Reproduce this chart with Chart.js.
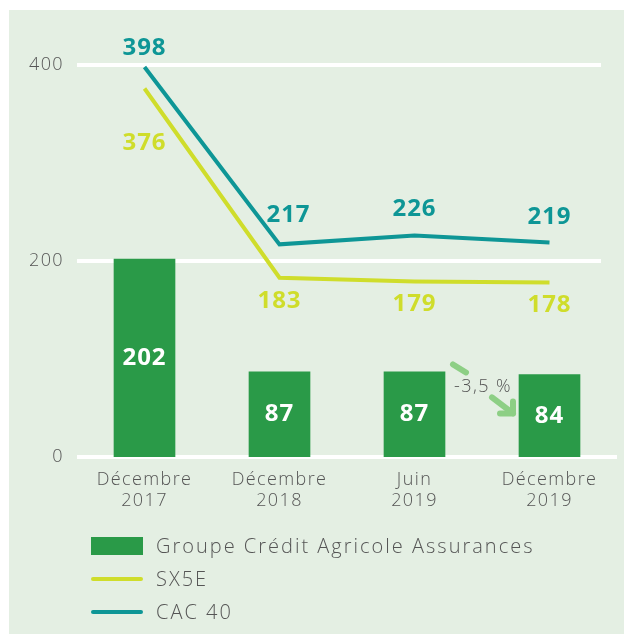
<!DOCTYPE html>
<html>
<head>
<meta charset="utf-8">
<script src="https://cdn.jsdelivr.net/npm/chart.js@4"></script>
<style>
  body { margin: 0; background: #fff; }
  #panel { position: absolute; left: 9px; top: 10px; width: 615px; height: 624px; background: #e4efe3; }
  #wrap { position: absolute; left: 0; top: 0; width: 624px; height: 636px; }
  #legend { position: absolute; left: 91px; top: 529px; font-family: 'Open Sans', sans-serif; font-weight: 300; font-size: 20px; letter-spacing: 2px; color: #555; }
  .row { height: 33px; display: flex; align-items: center; }
  .sw { width: 52px; margin-right: 13px; }
</style>
</head>
<body>
<div id="panel"></div>
<div id="wrap"><canvas id="chart"></canvas></div>
<div id="legend"></div>
<script>
const categories = [['Décembre', '2017'], ['Décembre', '2018'], ['Juin', '2019'], ['Décembre', '2019']];
const gcaValues = [202, 87, 87, 84];
const sx5eValues = [376, 183, 179, 178];
const cac40Values = [398, 217, 226, 219];
const yTicks = [0, 200, 400];
const seriesNames = ['Groupe Crédit Agricole Assurances', 'SX5E', 'CAC 40'];
const changeLabel = '-3,5 %';

const green = '#2a9a48';
const lime = '#cfdd2b';
const teal = '#0e9696';

// the original font is wider than anything installed, so space the letters out a bit
const spacing = {
  id: 'spacing',
  beforeDraw(chart) { chart.ctx.letterSpacing = '1.4px'; },
};

// white grid lines, the top ones stop a bit short of the right edge
const gridLines = {
  id: 'gridLines',
  beforeDatasetsDraw(chart) {
    const { ctx, chartArea, scales } = chart;
    ctx.save();
    ctx.strokeStyle = '#fff';
    ctx.lineWidth = 4;
    yTicks.forEach((v) => {
      const y = scales.y.getPixelForValue(v);
      ctx.beginPath();
      ctx.moveTo(chartArea.left, y);
      ctx.lineTo(v === 0 ? chartArea.right : chartArea.right - 16, y);
      ctx.stroke();
    });
    ctx.restore();
  },
};

const valueLabels = {
  id: 'valueLabels',
  afterDatasetsDraw(chart) {
    const { ctx } = chart;
    const cacOffsets = [[0, -19], [9, -29], [0, -26], [0, -25]];
    const sxOffsets = [[0, 55], [0, 23], [0, 23], [0, 23]];
    ctx.save();
    ctx.letterSpacing = '1px';
    ctx.font = 'bold 24px "Open Sans"';
    ctx.textAlign = 'center';
    ctx.textBaseline = 'middle';

    ctx.fillStyle = '#fff';
    chart.getDatasetMeta(0).data.forEach((el, i) => {
      ctx.fillText(gcaValues[i], el.x, (el.y + el.base) / 2);
    });
    ctx.fillStyle = lime;
    chart.getDatasetMeta(1).data.forEach((el, i) => {
      ctx.fillText(sx5eValues[i], el.x + sxOffsets[i][0], el.y + sxOffsets[i][1]);
    });
    ctx.fillStyle = teal;
    chart.getDatasetMeta(2).data.forEach((el, i) => {
      ctx.fillText(cac40Values[i], el.x + cacOffsets[i][0], el.y + cacOffsets[i][1]);
    });
    ctx.restore();
  },
};

// -3,5 % arrow between the last two bars
const changeArrow = {
  id: 'changeArrow',
  afterDatasetsDraw(chart) {
    const { ctx, scales } = chart;
    const x = (scales.x.getPixelForValue(2) + scales.x.getPixelForValue(3)) / 2;
    const y = scales.y.getPixelForValue(72);
    ctx.save();
    ctx.strokeStyle = '#8dcf85';
    ctx.lineWidth = 6;
    ctx.lineCap = 'round';
    ctx.lineJoin = 'round';
    ctx.beginPath();
    ctx.moveTo(x - 29, y - 22);
    ctx.lineTo(x - 16, y - 14);
    ctx.moveTo(x + 10, y + 11);
    ctx.lineTo(x + 31, y + 27);
    ctx.stroke();
    ctx.beginPath();
    ctx.moveTo(x + 18, y + 27);
    ctx.lineTo(x + 31, y + 27);
    ctx.lineTo(x + 31, y + 15);
    ctx.stroke();
    ctx.fillStyle = '#555';
    ctx.letterSpacing = '1.4px';
    ctx.font = '300 18px "Open Sans"';
    ctx.textAlign = 'center';
    ctx.textBaseline = 'middle';
    ctx.fillText(changeLabel, x + 1, y);
    ctx.restore();
  },
};

new Chart(document.getElementById('chart'), {
  data: {
    labels: categories,
    datasets: [
      { type: 'bar', label: seriesNames[0], data: gcaValues, backgroundColor: green, barThickness: 61, order: 3 },
      { type: 'line', label: seriesNames[1], data: sx5eValues, borderColor: lime, borderWidth: 4, pointRadius: 0, tension: 0, order: 2 },
      { type: 'line', label: seriesNames[2], data: cac40Values, borderColor: teal, borderWidth: 4, pointRadius: 0, tension: 0, order: 1 },
    ],
  },
  options: {
    responsive: true,
    maintainAspectRatio: false,
    animation: false,
    layout: { padding: { top: 65, right: 7, left: 0, bottom: 0 } },
    plugins: { legend: { display: false }, tooltip: { enabled: false } },
    scales: {
      x: {
        grid: { display: false },
        border: { display: false },
        ticks: { color: '#555', padding: 4, font: { family: 'Open Sans', weight: 300, size: 18, lineHeight: 1.17 } },
        afterFit(scale) { scale.height = 179; },
      },
      y: {
        min: 0,
        max: 400,
        grid: { display: false },
        border: { display: false },
        afterBuildTicks(scale) { scale.ticks = yTicks.map((v) => ({ value: v })); },
        ticks: { color: '#555', padding: 5, font: { family: 'Open Sans', weight: 300, size: 18 } },
        afterFit(scale) { scale.width = 77; },
      },
    },
  },
  plugins: [spacing, gridLines, valueLabels, changeArrow],
});

// legend, one row per series
const legend = document.getElementById('legend');
const swatches = [
  `<div class="sw" style="height:18px;background:${green}"></div>`,
  `<div class="sw" style="height:4px;border-radius:2px;background:${lime}"></div>`,
  `<div class="sw" style="height:4px;border-radius:2px;background:${teal}"></div>`,
];
seriesNames.forEach((name, i) => {
  const row = document.createElement('div');
  row.className = 'row';
  row.innerHTML = swatches[i] + `<span>${name}</span>`;
  legend.appendChild(row);
});
</script>
</body>
</html>
